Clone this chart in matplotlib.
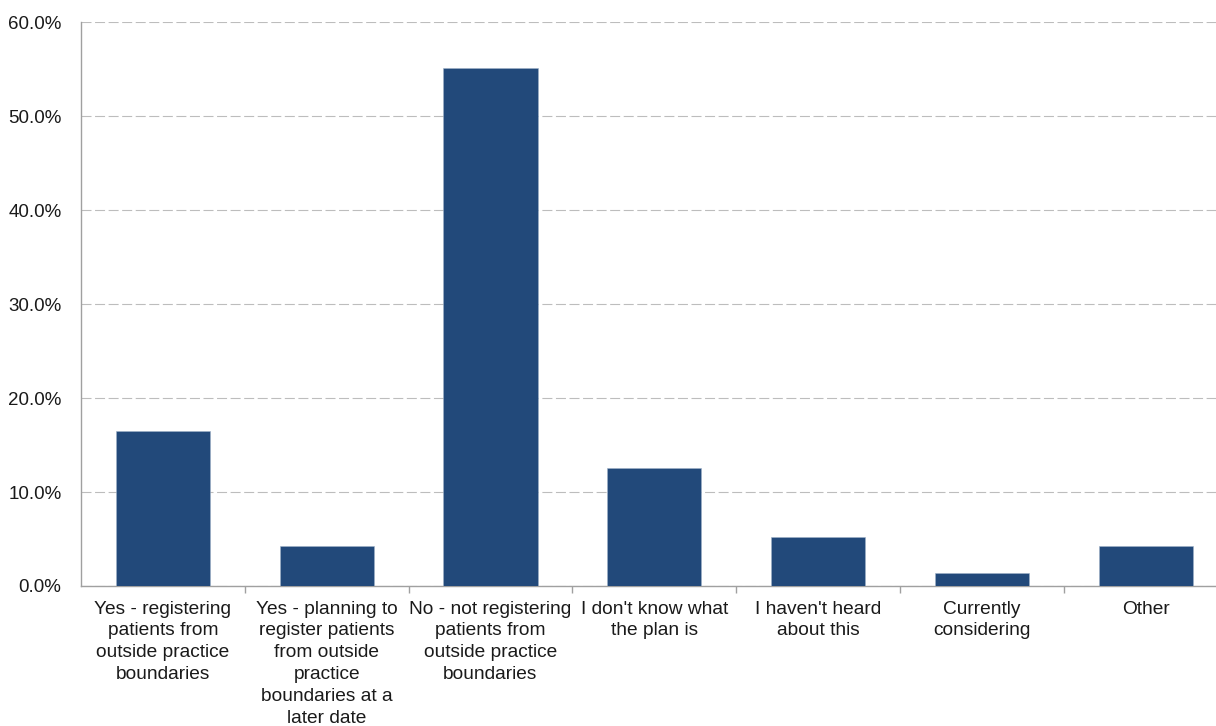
import matplotlib
matplotlib.use("Agg")
import matplotlib.pyplot as plt
import numpy as np
from matplotlib.ticker import FuncFormatter, FixedLocator

categories = [
    "Yes - registering\npatients from\noutside practice\nboundaries",
    "Yes - planning to\nregister patients\nfrom outside\npractice\nboundaries at a\nlater date",
    "No - not registering\npatients from\noutside practice\nboundaries",
    "I don't know what\nthe plan is",
    "I haven't heard\nabout this",
    "Currently\nconsidering",
    "Other",
]
values = [16.5, 4.3, 55.1, 12.55, 5.25, 1.4, 4.3]
y_ticks = [0, 10, 20, 30, 40, 50, 60]

plt.rcParams['font.family'] = ['Liberation Sans', 'DejaVu Sans']

W, H = 1216, 726
fig = plt.figure(figsize=(W / 100, H / 100), dpi=100)
left, right, top, bottom = 81, 1227.6, 22, 586
ax = fig.add_axes([left / W, 1 - bottom / H, (right - left) / W, (bottom - top) / H])

x = np.arange(len(categories))
ax.bar(x, values, width=0.575, color="#22497A", edgecolor="#9FB2C8", linewidth=0.4, zorder=3)

ax.set_xlim(-0.5, len(categories) - 0.5)
ax.set_ylim(0, 60)
ax.set_yticks(y_ticks)
ax.yaxis.set_major_formatter(FuncFormatter(lambda v, p: f"{v:.1f}%"))
ax.set_xticks(x)
ax.set_xticklabels(categories, linespacing=1.37)
ax.xaxis.set_minor_locator(FixedLocator(np.arange(len(categories)) + 0.5))

ax.grid(axis='y', color="#BDBDBD", linestyle=(0, (9, 3.2)), linewidth=0.8, zorder=0)
ax.set_axisbelow(True)

for s in ['top', 'right']:
    ax.spines[s].set_visible(False)
for s in ['left', 'bottom']:
    ax.spines[s].set_color("#A0A0A0")
    ax.spines[s].set_linewidth(1.0)

ax.tick_params(axis='y', length=0, pad=14, labelsize=13.5, labelcolor="#1A1A1A")
ax.tick_params(axis='x', which='major', length=0, pad=10.5, labelsize=13.8, labelcolor="#1A1A1A")
ax.tick_params(axis='x', which='minor', length=5, width=1.0, color="#A0A0A0")

fig.savefig("out.png", dpi=100)
